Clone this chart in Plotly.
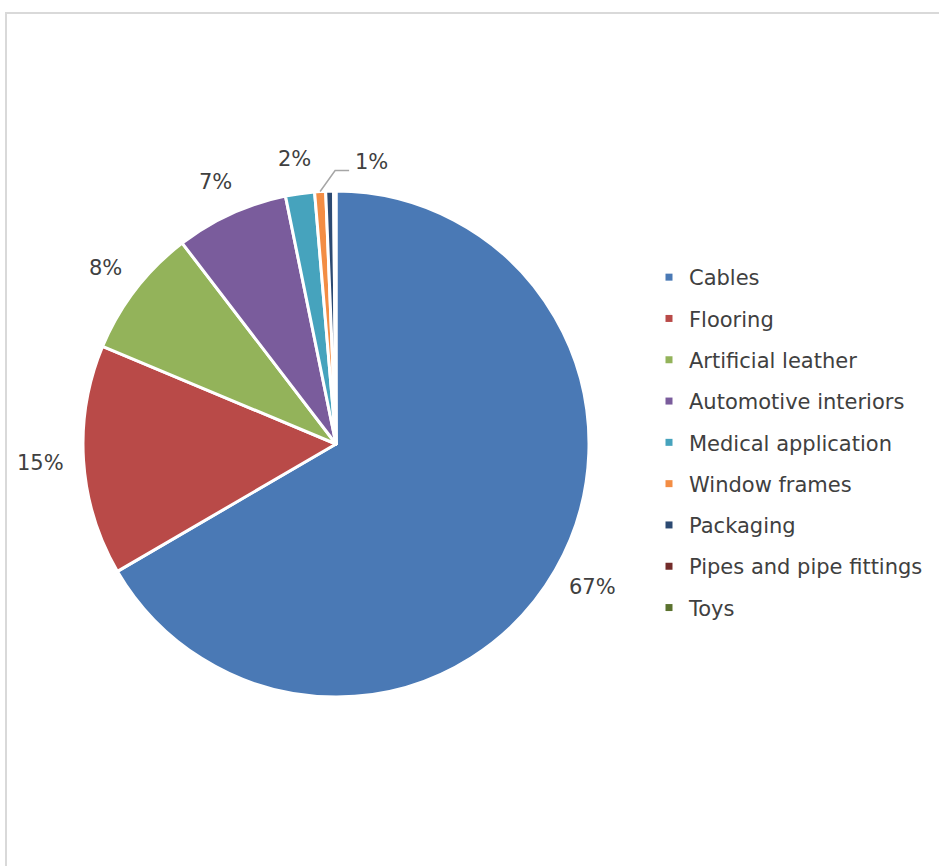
import math
import plotly.graph_objects as go

# PVC demand by application (share, %)
categories = [
    "Cables", "Flooring", "Artificial leather", "Automotive interiors",
    "Medical application", "Window frames", "Packaging",
    "Pipes and pipe fittings", "Toys",
]
shares = [66.6, 14.7, 8.3, 7.2, 1.85, 0.7, 0.5, 0.08, 0.07]
colors = [
    "#4A79B5", "#B94A48", "#93B35A", "#7A5C9C", "#46A3BD",
    "#F38D44", "#2C4A72", "#732C2A", "#5B722F",
]
# slices whose percentage is printed beside the pie
labelled = [True, True, True, True, True, True, False, False, False]

W, H = 939, 866
CX, CY, R = 336, 444, 253          # pie centre and radius in px
LABEL_GAP = 22                      # gap between pie edge and label box
FS = 21                             # font size
TEXT_COLOR = "#404040"
FONT = "DejaVu Sans"

fig = go.Figure()

fig.add_trace(go.Pie(
    labels=categories,
    values=shares,
    sort=False,
    direction="clockwise",
    rotation=0,
    marker=dict(colors=colors, line=dict(color="white", width=3)),
    textinfo="none",
    hoverinfo="label+percent",
    showlegend=False,
    domain=dict(x=[(CX - R) / W, (CX + R) / W],
                y=[1 - (CY + R) / H, 1 - (CY - R) / H]),
))

# legend entries as small square markers
for name, col in zip(categories, colors):
    fig.add_trace(go.Scatter(
        x=[None], y=[None], mode="markers", name=name,
        legendgroup=name,
        marker=dict(symbol="square", size=7, color=col),
    ))

total = sum(shares)
annotations = []
shapes = []
cum = 0.0
for name, v, show in zip(categories, shares, labelled):
    mid = (cum + v / 2) / total * 2 * math.pi
    cum += v
    if not show:
        continue
    pct = f"{round(v / total * 100)}%"
    sx, sy = math.sin(mid), -math.cos(mid)
    if v / total < 0.01:
        # thin slice: label lifted off with a leader line
        ex, ey = CX + R * sx, CY + R * sy
        kx, ky = ex + 15, ey - 21
        hx = kx + 14
        shapes.append(dict(
            type="path", xref="paper", yref="paper",
            path=(f"M {ex / W},{1 - ey / H} L {kx / W},{1 - ky / H} "
                  f"L {hx / W},{1 - ky / H}"),
            line=dict(color="#A6A6A6", width=1.5),
        ))
        annotations.append(dict(
            x=(hx + 4) / W, y=1 - (ky - 8) / H, xref="paper", yref="paper",
            text=pct, showarrow=False, xanchor="left", yanchor="middle",
            font=dict(family=FONT, size=FS, color=TEXT_COLOR),
        ))
    else:
        # place the text box just outside the rim, pushed out by its half size
        hw = 0.55 * FS * len(pct) / 2 + 4
        hh = 0.6 * FS
        lx = CX + (R + LABEL_GAP) * sx + hw * sx
        ly = CY + (R + LABEL_GAP) * sy + hh * sy
        annotations.append(dict(
            x=lx / W, y=1 - ly / H,
            xref="paper", yref="paper", text=pct, showarrow=False,
            xanchor="center", yanchor="middle",
            font=dict(family=FONT, size=FS, color=TEXT_COLOR),
        ))

# light frame around the chart area
shapes.append(dict(
    type="rect", xref="paper", yref="paper",
    x0=6 / W, x1=1.02, y0=-0.02, y1=1 - 13 / H,
    line=dict(color="#D9D9D9", width=2), fillcolor="rgba(0,0,0,0)",
    layer="below",
))

fig.update_layout(
    width=W, height=H,
    margin=dict(l=0, r=0, t=0, b=0),
    paper_bgcolor="white", plot_bgcolor="white",
    xaxis=dict(visible=False), yaxis=dict(visible=False),
    annotations=annotations,
    shapes=shapes,
    legend=dict(
        x=649 / W, y=1 - 257 / H, xanchor="left", yanchor="top",
        traceorder="grouped", tracegroupgap=11,
        font=dict(family=FONT, size=FS, color=TEXT_COLOR),
        bgcolor="rgba(0,0,0,0)", itemwidth=30,
    ),
    font=dict(family=FONT, color=TEXT_COLOR),
)

fig.write_html("out.html")
